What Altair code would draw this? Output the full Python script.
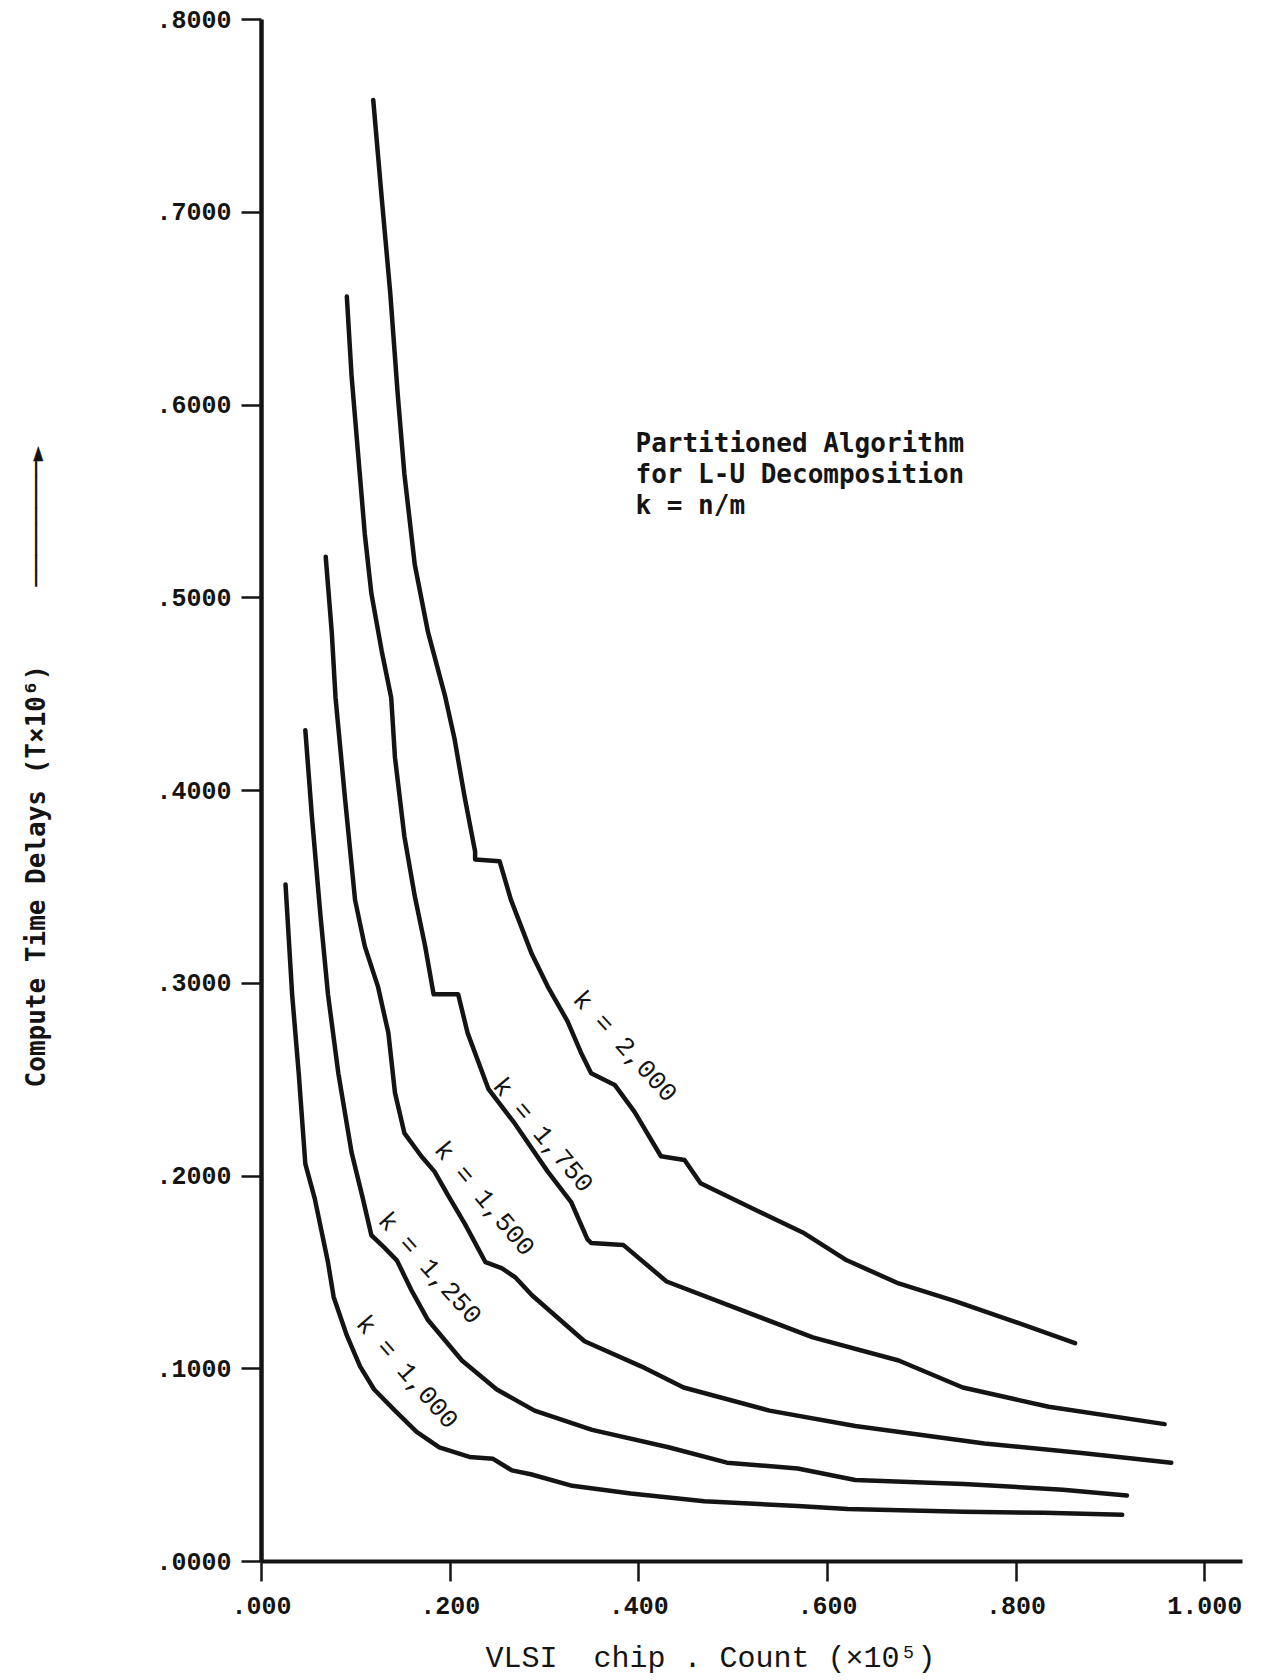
import altair as alt
import pandas as pd

# ---- data ----
series_names = ["k = 1,000", "k = 1,250", "k = 1,500", "k = 1,750", "k = 2,000"]

x_k1000 = [.026, .033, .040, .047, .057, .071, .077, .091, .105, .120, .142, .165, .189,
           .221, .246, .266, .286, .330, .392, .470, .569, .622, .745, .830, .913]
y_k1000 = [.351, .294, .253, .206, .188, .155, .137, .117, .101, .089, .078, .067, .059,
           .054, .053, .047, .045, .039, .035, .031, .0285, .027, .0255, .025, .024]

x_k1250 = [.047, .054, .063, .071, .082, .096, .108, .117, .130, .144, .160, .177, .213,
           .250, .290, .351, .432, .494, .569, .630, .745, .850, .918]
y_k1250 = [.431, .386, .335, .294, .253, .212, .188, .169, .163, .156, .140, .125, .104,
           .089, .078, .068, .059, .051, .048, .042, .040, .037, .034]

x_k1500 = [.0686, .075, .079, .089, .0997, .110, .124, .135, .142, .152, .170, .184, .198,
           .216, .238, .255, .270, .287, .343, .403, .448, .539, .630, .767, .870, .965]
y_k1500 = [.521, .482, .448, .396, .343, .319, .298, .274, .243, .222, .210, .202, .190,
           .175, .155, .152, .147, .138, .114, .101, .090, .078, .070, .061, .056, .051]

x_k1750 = [.091, .096, .103, .110, .117, .128, .138, .142, .152, .163, .174, .183, .209,
           .219, .241, .269, .304, .329, .346, .350, .384, .430, .494, .585, .676, .744,
           .835, .958]
y_k1750 = [.656, .615, .574, .533, .502, .472, .448, .417, .376, .345, .319, .294, .294,
           .274, .245, .227, .202, .186, .167, .165, .164, .145, .133, .116, .104, .090,
           .080, .071]

x_k2000 = [.119, .128, .137, .145, .152, .163, .177, .195, .205, .216, .227, .227, .253,
           .265, .287, .304, .325, .339, .350, .375, .396, .424, .449, .466, .525, .576,
           .621, .676, .735, .794, .863]
y_k2000 = [.758, .707, .658, .605, .564, .517, .482, .449, .427, .396, .368, .364, .363,
           .343, .315, .298, .280, .264, .253, .247, .233, .210, .208, .196, .182, .170,
           .156, .144, .135, .125, .113]

# curve labels (text, position, rotation)
label_x = [.155, .179, .237, .299, .386]
label_y = [.098, .152, .188, .221, .267]
label_angle = [49, 48, 50, 50, 47.5]

note_lines = ["Partitioned Algorithm", "for L-U Decomposition", "k = n/m"]
note_x = [.397]
note_y = [.5755]

x_tick_values = [0.0, 0.2, 0.4, 0.6, 0.8, 1.0]
x_tick_labels = [".000", ".200", ".400", ".600", ".800", "1.000"]
y_tick_values = [0.0, 0.1, 0.2, 0.3, 0.4, 0.5, 0.6, 0.7, 0.8]
y_tick_labels = [".0000", ".1000", ".2000", ".3000", ".4000", ".5000", ".6000", ".7000", ".8000"]

NB = "\u00a0"
x_title = f"VLSI{NB}{NB}chip{NB}.{NB}Count{NB}(\u00d710\u2075)"
y_title = ("Compute Time Delays (T\u00d710\u2076)" + NB * 5
           + "\u2500" * 8 + "\u25ba")

# ---- tables ----
xs = [x_k1000, x_k1250, x_k1500, x_k1750, x_k2000]
ys = [y_k1000, y_k1250, y_k1500, y_k1750, y_k2000]
rows = []
for name, xv, yv in zip(series_names, xs, ys):
    for i, (a, b) in enumerate(zip(xv, yv)):
        rows.append({"series": name, "x": a, "y": b, "i": i})
df = pd.DataFrame(rows)

labels_df = pd.DataFrame({"text": series_names, "x": label_x, "y": label_y, "angle": label_angle})
note_df = pd.DataFrame({"text": ["\n".join(note_lines)], "x": note_x, "y": note_y})


def label_expr(values, labels):
    expr = "''"
    for v, l in reversed(list(zip(values, labels))):
        expr = f"abs(datum.value - {v}) < 1e-6 ? '{l}' : ({expr})"
    return expr


INK = "#141414"

x_enc = alt.X(
    "x:Q",
    scale=alt.Scale(domain=[0, 1.04], nice=False, zero=False),
    axis=alt.Axis(
        values=x_tick_values,
        labelExpr=label_expr(x_tick_values, x_tick_labels),
        title=x_title,
        titleFont="Liberation Mono",
        titleFontSize=30,
        titleFontWeight="normal",
        titleColor=INK,
        titleX=449,
        titleY=96,
        titleAlign="center",
        titleBaseline="middle",
        labelFont="Liberation Mono",
        labelFontSize=25,
        labelFontWeight="bold",
        labelColor=INK,
        labelPadding=12,
        labelFlush=False,
        labelOverlap=False,
        tickSize=20,
        tickWidth=2.5,
        tickColor=INK,
        domainColor=INK,
        domainWidth=4,
        grid=False,
    ),
)

y_enc = alt.Y(
    "y:Q",
    scale=alt.Scale(domain=[0, 0.8], nice=False),
    axis=alt.Axis(
        values=y_tick_values,
        labelExpr=label_expr(y_tick_values, y_tick_labels),
        title=y_title,
        titleFont="DejaVu Sans Mono",
        titleFontSize=26,
        titleFontWeight="bold",
        titleColor=INK,
        titleAngle=270,
        titleX=-225,
        titleY=747,
        titleAlign="center",
        titleBaseline="middle",
        labelFont="Liberation Mono",
        labelFontSize=25,
        labelFontWeight="bold",
        labelColor=INK,
        labelPadding=10,
        labelFlush=False,
        labelOverlap=False,
        tickSize=20,
        tickWidth=2.5,
        tickColor=INK,
        domainColor=INK,
        domainWidth=4.5,
        grid=False,
    ),
)

lines = alt.Chart(df).mark_line(
    color=INK, strokeWidth=4.5, strokeCap="round", strokeJoin="round"
).encode(x=x_enc, y=y_enc, detail="series:N", order="i:Q")

curve_labels = alt.Chart(labels_df).mark_text(
    font="Liberation Mono", fontSize=26, align="center", baseline="middle", color=INK
).encode(
    x="x:Q", y="y:Q", text="text:N", angle=alt.Angle("angle:Q", scale=None)
)

note = alt.Chart(note_df).mark_text(
    font="DejaVu Sans Mono", fontSize=26, fontWeight="bold", align="left",
    baseline="alphabetic", lineBreak="\n", lineHeight=31, color=INK
).encode(x="x:Q", y="y:Q", text="text:N")

chart = alt.layer(lines, curve_labels, note).properties(
    width=981,
    height=1542,
    autosize=alt.AutoSizeParams(type="none"),
    padding={"left": 253, "top": 11, "right": 10, "bottom": 114},
    background="white",
).configure_view(stroke=None)

chart.save("out.html", embed_options={"renderer": "svg", "actions": False})
